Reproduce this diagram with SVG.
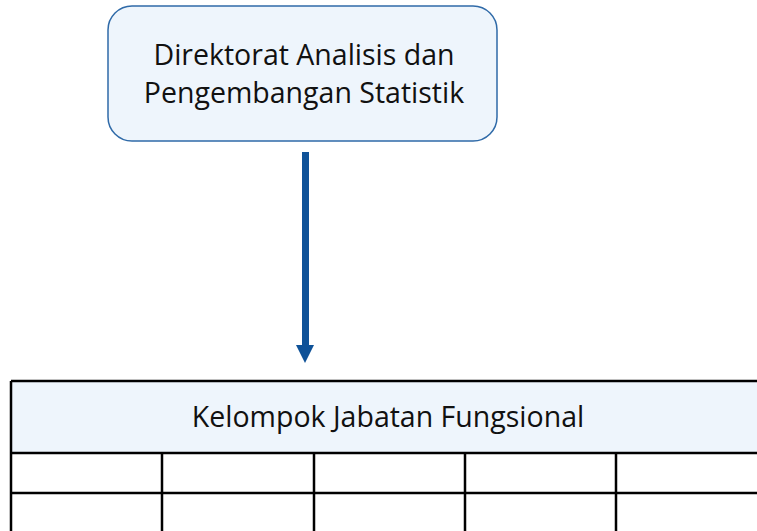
<svg xmlns="http://www.w3.org/2000/svg" width="757" height="531" viewBox="0 0 757 531">
<style>
text{font-family:"Open Sans","Noto Sans",sans-serif;fill:#111;}
.t{font-size:28.5px;text-anchor:middle;}
.grid{stroke:#000;stroke-width:2.5;fill:none;}
</style>
<rect width="757" height="531" fill="#fff"/>
<g id="node-direktorat">
<rect x="108" y="6" width="389" height="135" rx="24" fill="#eef5fc" stroke="#2f6aa8" stroke-width="1.5"/>
<text class="t" x="304" y="65">Direktorat Analisis dan</text>
<text class="t" x="304" y="103">Pengembangan Statistik</text>
</g>
<g id="connectors">
<line x1="305.5" y1="152" x2="305.5" y2="345" stroke="#0f5298" stroke-width="7"/>
<path d="M296,345 L314,345 L305,363 Z" fill="#0f5298"/>
</g>
<g id="node-kelompok">
<rect x="11" y="381" width="760" height="72" fill="#eef5fc"/>
<text class="t" x="388" y="427">Kelompok Jabatan Fungsional</text>
<path class="grid" d="M11,381 H760 M11,453 H760 M11,493 H760 M11,381 V531 M162,453 V531 M314,453 V531 M465,453 V531 M616,453 V531"/>
</g>
</svg>
